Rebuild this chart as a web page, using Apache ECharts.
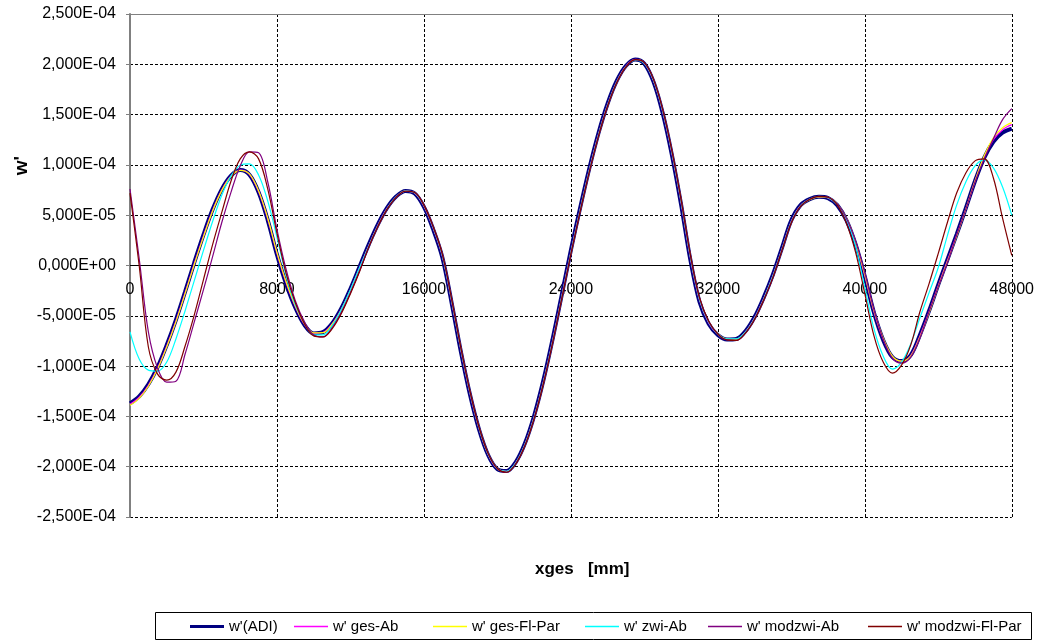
<!DOCTYPE html>
<html><head><meta charset="utf-8">
<script src="https://cdn.jsdelivr.net/npm/echarts@6/dist/echarts.min.js"></script>
<style>html,body{margin:0;padding:0;background:#fff}#c{width:1037px;height:641px}</style>
</head><body><div id="c"></div>
<script>
// x positions (mm) of the sampled points: 0, 500, 1000 ... 48000
const xPos = Array.from({length: 97}, (_, i) => i * 500);
const xTicks = [0, 8000, 16000, 24000, 32000, 40000, 48000];
const seriesNames = ["w'(ADI)", "w' ges-Ab", "w' ges-Fl-Par", "w' zwi-Ab", "w' modzwi-Ab", "w' modzwi-Fl-Par"];

// values of w', in units of 1E-05
const adi = [-13.7,-13.0,-11.8,-10.1,-7.9,-5.4,-2.6,0.3,3.06,5.58,7.59,8.93,9.49,9.02,7.28,4.49,1.08,-1.84,-4.19,-5.92,-6.75,-6.63,-5.77,-4.27,-2.31,-0.1,
  2.1,4.11,5.75,6.88,7.41,7.16,5.83,3.61,0.82,-3.63,-8.46,-12.78,-16.3,-18.86,-20.25,-20.43,-19.54,-17.67,-14.93,-11.44,-7.36,-2.94,
  1.53,5.7,9.63,13.14,16.1,18.37,19.85,20.48,20.06,18.25,15.13,10.97,6.05,0.6,-3.6,-5.8,-6.9,-7.35,-7.3,-6.54,-5.12,-3.17,-0.9,
  1.8,4.5,6.0,6.6,6.83,6.7,6.0,4.5,2.1,-1.1,-4.7,-7.4,-9.1,-9.5,-8.9,-6.9,-4.5,-1.9,0.6,3.1,5.7,8.4,10.7,12.3,13.2,13.6];

const gesAb = [-13.8,-13.1,-11.9,-10.2,-8.0,-5.5,-2.7,0.2,2.95,5.5,7.53,8.9,9.48,9.06,7.35,4.6,1.2,-1.72,-4.1,-5.86,-6.73,-6.66,-5.82,-4.35,-2.4,-0.2,
  2.0,4.03,5.7,6.85,7.4,7.2,5.9,3.72,0.95,-3.48,-8.3,-12.65,-16.2,-18.8,-20.22,-20.46,-19.6,-17.76,-15.05,-11.58,-7.52,-3.1,
  1.36,5.54,9.49,13.02,16.0,18.3,19.81,20.48,20.1,18.35,15.28,11.15,6.25,0.8,-3.45,-5.7,-6.85,-7.34,-7.33,-6.6,-5.2,-3.27,-1.0,
  1.7,4.4,5.95,6.58,6.83,6.72,6.05,4.6,2.2,-1.0,-4.6,-7.3,-9.05,-9.5,-8.95,-7.0,-4.6,-2.0,0.5,3.0,5.6,8.4,10.8,12.5,13.5,14.0];

const gesFlPar = [-13.9,-13.2,-12.0,-10.3,-8.1,-5.6,-2.8,0.1,2.85,5.42,7.47,8.86,9.46,9.1,7.42,4.7,1.3,-1.62,-4.02,-5.8,-6.7,-6.68,-5.86,-4.42,-2.48,-0.3,
  1.92,3.96,5.64,6.82,7.39,7.24,5.97,3.82,1.08,-3.34,-8.16,-12.52,-16.1,-18.74,-20.18,-20.48,-19.66,-17.84,-15.16,-11.7,-7.66,-3.24,
  1.2,5.4,9.36,12.9,15.9,18.22,19.76,20.46,20.14,18.44,15.42,11.32,6.44,1.0,-3.3,-5.6,-6.8,-7.32,-7.35,-6.66,-5.28,-3.36,-1.1,
  1.6,4.3,5.9,6.55,6.82,6.74,6.1,4.7,2.3,-0.9,-4.5,-7.2,-9.0,-9.5,-9.0,-7.1,-4.7,-2.1,0.4,2.9,5.6,8.4,10.9,12.7,13.7,14.2];

const zwiAb = [-6.6,-9.3,-10.4,-10.5,-9.6,-7.3,-4.5,-1.5,1.5,4.4,7.0,8.9,9.97,10.1,9.0,6.4,2.8,-1.0,-3.9,-5.7,-6.9,-6.9,-6.0,-4.4,-2.4,-0.2,
  1.95,3.98,5.66,6.83,7.4,7.22,5.94,3.78,1.02,-3.4,-8.22,-12.58,-16.15,-18.77,-20.2,-20.45,-19.63,-17.8,-15.1,-11.64,-7.6,-3.18,
  1.28,5.47,9.42,12.96,15.95,18.26,19.78,20.42,20.1,18.4,15.35,11.24,6.35,0.9,-3.37,-5.65,-6.83,-7.3,-7.3,-6.63,-5.24,-3.32,-1.05,
  1.65,4.35,5.92,6.6,6.88,6.75,6.05,4.6,1.9,-2.2,-6.3,-9.0,-10.3,-9.6,-7.8,-5.2,-2.7,-0.2,3.0,6.0,8.3,9.9,10.5,9.7,7.8,5.0];

const modzwiAb = [7.6,0.7,-6.6,-10.2,-11.6,-11.5,-8.8,-5.6,-2.4,0.9,4.3,7.3,9.9,11.3,11.2,8.3,3.6,-0.4,-3.5,-5.6,-6.9,-7.1,-6.2,-4.7,-2.7,-0.5,
  1.85,3.9,5.6,6.8,7.38,7.25,6.0,3.88,1.15,-3.25,-8.08,-12.45,-16.05,-18.7,-20.18,-20.55,-19.72,-17.9,-15.22,-11.78,-7.74,-3.32,
  1.12,5.32,9.28,12.84,15.85,18.18,19.74,20.46,20.16,18.5,15.5,11.42,6.55,1.1,-3.2,-5.55,-6.82,-7.4,-7.45,-6.72,-5.35,-3.42,-1.18,
  1.55,4.25,5.88,6.58,6.88,6.78,6.12,4.7,2.4,-0.7,-4.4,-7.3,-9.2,-9.7,-9.1,-7.2,-4.6,-2.1,0.3,3.0,5.6,8.3,10.6,12.6,14.5,15.6];

const modzwiFlPar = [7.2,0.0,-8.1,-10.8,-11.4,-10.6,-8.0,-4.9,-1.4,2.1,5.3,8.4,10.6,11.3,10.6,7.6,3.2,-0.8,-3.7,-5.8,-7.0,-7.1,-6.3,-4.8,-2.8,-0.6,
  1.85,3.9,5.6,6.8,7.38,7.25,6.0,3.88,1.15,-3.25,-8.08,-12.45,-16.05,-18.7,-20.18,-20.55,-19.72,-17.9,-15.22,-11.78,-7.74,-3.32,
  1.12,5.32,9.28,12.84,15.85,18.18,19.74,20.46,20.16,18.5,15.5,11.42,6.55,1.1,-3.2,-5.55,-6.82,-7.4,-7.45,-6.72,-5.35,-3.42,-1.18,
  1.55,4.25,5.88,6.58,6.88,6.78,6.0,4.2,1.3,-2.8,-7.0,-9.6,-10.7,-9.9,-7.9,-4.6,-1.8,1.2,4.3,7.2,9.2,10.4,10.6,8.7,4.7,1.0];

const colors = ['#000080', '#FF00FF', '#FFFF00', '#00FFFF', '#800080', '#800000'];
const widths = [4, 1.2, 1.2, 1.2, 1.2, 1.2];
const legendLeft = [190, 294, 433, 585, 708, 868];
const legendIconH = [3, 1.5, 1.5, 1.5, 1.5, 1.5];
const values = [adi, gesAb, gesFlPar, zwiAb, modzwiAb, modzwiFlPar];

function fmtE(v) {
  if (Math.abs(v) < 1e-9) return '0,000E+00';
  const s = (v * 1e-5).toExponential(3).split('e');
  const e = parseInt(s[1], 10);
  return s[0].replace('.', ',') + 'E' + (e < 0 ? '-' : '+') + String(Math.abs(e)).padStart(2, '0');
}

const chart = echarts.init(document.getElementById('c'), null, {renderer: 'canvas'});
const FONT = 'Liberation Sans, Arial, sans-serif';
const dash = [3, 2];
const GRID_TOP = 14, GRID_BOTTOM = 124, H = 641;
const plotH = H - GRID_TOP - GRID_BOTTOM;

const series = seriesNames.map((n, i) => ({
  name: n, type: 'line', xAxisIndex: 0, yAxisIndex: 0,
  data: xPos.map((x, k) => [x, values[i][k]]),
  smooth: 0.35, symbol: 'none', showSymbol: false,
  lineStyle: {color: colors[i], width: widths[i]},
  itemStyle: {color: colors[i]},
  emphasis: {disabled: true}, animation: false, z: 2 + i
}));

const legends = seriesNames.map((n, i) => ({
  data: [{name: n, icon: 'rect'}], left: legendLeft[i], top: 619, padding: 0,
  itemWidth: 34, itemHeight: legendIconH[i], itemGap: 0,
  textStyle: {fontFamily: FONT, fontSize: 15, color: '#000', padding: [0, 0, 0, 0]},
  selectedMode: false
}));

chart.setOption({
  animation: false,
  backgroundColor: '#fff',
  grid: {left: 130, right: 25, top: GRID_TOP, bottom: GRID_BOTTOM, containLabel: false},
  legend: legends,
  xAxis: [{
    type: 'value', min: 0, max: 48000, interval: 8000, position: 'bottom',
    offset: -plotH / 2,
    axisLine: {onZero: false, lineStyle: {color: '#000', width: 1}},
    axisTick: {show: false},
    axisLabel: {fontFamily: FONT, fontSize: 16, color: '#000', margin: 16, formatter: v => String(v)},
    splitLine: {show: true, lineStyle: {color: '#000', type: dash, width: 1}}
  }, {
    type: 'value', min: 0, max: 48000, position: 'top',
    axisLine: {show: true, onZero: false, lineStyle: {color: '#808080', width: 1}},
    axisTick: {show: false}, axisLabel: {show: false}, splitLine: {show: false}
  }],
  yAxis: [{
    type: 'value', min: -25, max: 25, interval: 5,
    axisLine: {show: true, onZero: false, lineStyle: {color: '#808080', width: 2}},
    axisTick: {show: true, length: 4, lineStyle: {color: '#808080'}},
    axisLabel: {fontFamily: FONT, fontSize: 16, color: '#000', margin: 14, formatter: fmtE},
    splitLine: {show: true, lineStyle: {color: '#000', type: dash, width: 1}}
  }],
  graphic: [
    {type: 'text', left: 12, top: 156, rotation: Math.PI / 2,
      style: {text: "w'", fontFamily: FONT, fontSize: 19, fontWeight: 'bold', fill: '#000'}},
    {type: 'text', left: 535, top: 561,
      style: {text: 'xges   [mm]', fontFamily: FONT, fontSize: 17, fontWeight: 'bold', fill: '#000'}},
    {type: 'rect', shape: {x: 155.5, y: 612.5, width: 876, height: 27},
      style: {fill: 'none', stroke: '#000', lineWidth: 1}, z: -1}
  ],
  series: series
});
</script>
</body></html>
